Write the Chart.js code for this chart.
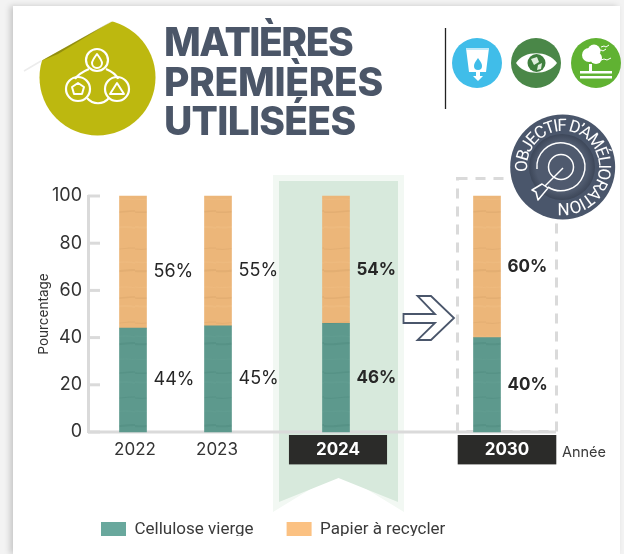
<!DOCTYPE html>
<html lang="fr">
<head>
<meta charset="utf-8">
<script src="https://cdn.jsdelivr.net/npm/chart.js@4"></script>
<style>
html,body{margin:0;padding:0;width:624px;height:554px;overflow:hidden;background:#f3f3f3}
#card{position:absolute;left:13px;top:6px;width:607px;height:548px;background:#fff;box-shadow:-3px 0 6px rgba(0,0,0,.18)}
#c{position:absolute;left:0;top:0}
#title{position:absolute;left:164px;top:22px;font:800 39px/39.5px Inter,sans-serif;color:#4b5668;margin:0}
#title span{display:block}
#clip{position:absolute;left:95px;top:536px;width:370px;height:18px;background:#fff}
svg{position:absolute;left:0;top:0}
</style>
</head>
<body>
<div id="card"></div>
<canvas id="c" width="624" height="554"></canvas>
<div id="clip"></div>
<svg width="624" height="554" viewBox="0 0 624 554">
  <defs>
    <radialGradient id="disc"><stop offset=".78" stop-color="#4f5a6e"/><stop offset="1" stop-color="#3d4759"/></radialGradient>
    <path id="ring" d="M 527.4 172 A 36 36 0 1 1 558 202.6"/>
  </defs>
  <circle cx="97.5" cy="77.5" r="58" fill="#bdb80f"/>
  <path d="M13.5 8 H135 V12 L113 21 L41 61 L24 71 H13.5 Z" fill="#fff"/>
  <path d="M113 20.5 L41 61 L58 54 Z" fill="#6f6c10" opacity=".55"/>
  <path d="M24 71 L41 61" stroke="#ececec" stroke-width="1.5" fill="none"/>
  <g fill="none" stroke="#fff" stroke-width="2.2" stroke-linejoin="round">
    <path d="M89 69 C82 72 77 76 75 79"/>
    <path d="M106 69 C113 72 117 76 118 79"/>
    <path d="M87 98 C93 105 103 105 109 98"/>
    <circle cx="97" cy="60" r="11"/>
    <circle cx="78" cy="89" r="12"/>
    <circle cx="117" cy="89" r="12"/>
    <path d="M97 54 C94 58 92 61 92 63 A5 5 0 0 0 102 63 C102 61 100 58 97 54Z" stroke-width="2"/>
    <path d="M78 83 L84 87 L82 94 L74 94 L72 87Z" stroke-width="2"/>
    <path d="M117 83 L124 94 L110 94Z" stroke-width="2"/>
  </g>
  <line x1="445.5" y1="28" x2="445.5" y2="109" stroke="#222" stroke-width="1.3"/>
  <circle cx="477" cy="63" r="25" fill="#40bde9"/>
  <path d="M466 48 H489 L486 72 H469Z" fill="#fff"/>
  <rect x="466" y="48" width="23" height="2" fill="#bfe9f8"/>
  <path d="M478 58 C475 62 474 64 474 66 A3.8 3.8 0 0 0 482 66 C482 64 481 62 478 58Z" fill="#40bde9"/>
  <path d="M476 72 H480 V76 H483 L478 81 L473 76 H476Z" fill="#fff"/>
  <circle cx="536" cy="63" r="25" fill="#4a8748"/>
  <path d="M516 63 C524 50 548 50 557 63 C548 76 524 76 516 63Z" fill="#fff"/>
  <circle cx="536.5" cy="63" r="9" fill="#3f7f3e"/>
  <path d="M531 59 L537 57 L539 62 L534 65Z M538 65 L542 63 L541 69 L537 70Z" fill="#dfeedd"/>
  <circle cx="596" cy="63" r="25" fill="#60b232"/>
  <circle cx="589" cy="55" r="7" fill="#fff"/><circle cx="594" cy="51" r="6.5" fill="#fff"/><circle cx="596" cy="58" r="6" fill="#fff"/>
  <rect x="589" y="64" width="3" height="9" fill="#fff"/>
  <rect x="580" y="71" width="32" height="2.5" fill="#fff"/><rect x="580" y="76" width="32" height="2.5" fill="#fff"/>
  <path d="M598 51 l3 -1 l2 1 l3 -2 M601 47 l3 -1 l2 1 l3 -2 M601 60 l3 -1 l3 1 l4 -2" stroke="#fff" stroke-width="1" fill="none"/>
  <circle cx="562.7" cy="167" r="52.5" fill="#4a566b"/>
  <circle cx="562" cy="167" r="33" fill="url(#disc)"/>
  <g fill="none" stroke="#fff" stroke-width="1.5" stroke-linejoin="round">
    <path d="M537 169 A24 24 0 1 1 548 187"/>
    <circle cx="561" cy="167" r="12.5"/>
    <path d="M563 168 L545 186"/>
    <path d="M542 184 L532 190 L536 192 L538 200 L548 188Z" fill="#4a566b"/>
  </g>
  <text font-family="Roboto,sans-serif" font-size="17" font-weight="400" fill="#fff"><textPath href="#ring" textLength="180" lengthAdjust="spacing">OBJECTIF D’AMÉLIORATION</textPath></text>
  <path d="M403.5 314 H435 L417.5 296 H431 L454 318 L431 340 H417.5 L435 323 H403.5Z" fill="#fff" stroke="#4a566b" stroke-width="1.8" stroke-linejoin="miter"/>
</svg>
<h1 id="title"><span style="letter-spacing:-1.45px">MATIÈRES</span><span style="letter-spacing:-.35px">PREMIÈRES</span><span style="letter-spacing:-.75px">UTILISÉES</span></h1>
<script>
const categories = ['2022', '2023', '2024', '2030'];
const celluloseVierge = [44, 45, 46, 40];
const papierARecycler = [56, 55, 54, 60];
const seriesNames = ['Cellulose vierge', 'Papier à recycler'];
const emphasizedYears = ['2024', '2030'];

// Bars and their year labels sit at irregular, hand-laid offsets in the original.
const BAR_OFFSETS = [45, 130, 248, 399];
const LABEL_OFFSETS = [47, 129, 250, 419];

class LaidOutCategoryScale extends Chart.CategoryScale {
  getPixelForValue(value) {
    const i = typeof value === 'number' ? value : this.parse(value);
    return this.left + BAR_OFFSETS[i];
  }
  getPixelForTick(i) {
    return this.left + LABEL_OFFSETS[i];
  }
}
LaidOutCategoryScale.id = 'laidOutCategory';
LaidOutCategoryScale.defaults = Chart.CategoryScale.defaults;
Chart.register(LaidOutCategoryScale);

function texture(base, dark, light) {
  const t = document.createElement('canvas');
  t.width = 27; t.height = 240;
  const g = t.getContext('2d');
  g.fillStyle = base; g.fillRect(0, 0, 27, 240);
  const stripes = [9, 22, 31, 47, 58, 66, 83, 96, 104, 119, 133, 142, 158, 171, 186, 199, 212, 227];
  stripes.forEach((y, i) => {
    g.strokeStyle = i % 2 ? light : dark;
    g.lineWidth = 1 + (i % 3) * .5;
    g.beginPath(); g.moveTo(0, y);
    g.bezierCurveTo(9, y + 1.5, 18, y - 1.5, 27, y + (i % 2 ? 1 : -1));
    g.stroke();
  });
  return g.createPattern(t, 'repeat');
}
const tealFill = texture('#5d998d', 'rgba(50,110,100,.16)', 'rgba(120,175,165,.14)');
const orangeFill = texture('#ecb679', 'rgba(190,140,85,.18)', 'rgba(250,205,150,.20)');

const decor = {
  id: 'decor',
  afterLayout(chart) {
    chart.legend.left = 68;
    chart.legend.top = 488;
  },
  beforeDraw(chart) {
    const c = chart.ctx;
    const band = (l, r, t, b, notch, col) => {
      c.fillStyle = col; c.beginPath();
      c.moveTo(l, t); c.lineTo(r, t); c.lineTo(r, b); c.lineTo((l + r) / 2, notch); c.lineTo(l, b);
      c.closePath(); c.fill();
    };
    band(273, 404, 175, 512, 472, '#f2f8f3');
    band(279, 398, 181, 502, 478, '#d7e9dc');
  },
  beforeDatasetsDraw(chart) {
    const c = chart.ctx, y = chart.scales.y;
    c.save();
    c.strokeStyle = '#dadada'; c.lineWidth = 3;
    y.ticks.forEach((t, i) => {
      const p = y.getPixelForTick(i);
      c.beginPath(); c.moveTo(y.right, p); c.lineTo(y.right + 12, p); c.stroke();
    });
    c.beginPath(); c.moveTo(y.right, y.bottom); c.lineTo(556, y.bottom); c.stroke();
    c.setLineDash([10, 8]);
    c.beginPath(); c.rect(457.5, 178.5, 99, 253); c.stroke();
    c.restore();
  },
  afterDatasetsDraw(chart) {
    const c = chart.ctx;
    c.save();
    c.textBaseline = 'middle'; c.textAlign = 'left';
    c.fillStyle = '#262626';
    chart.data.datasets.forEach((ds, d) => {
      chart.getDatasetMeta(d).data.forEach((bar, i) => {
        const bold = emphasizedYears.includes(categories[i]);
        c.font = (bold ? '700 17px' : '400 18px') + ' Inter, sans-serif';
        const lift = d === 1 && i < 3 ? 10 : 0;
        const mid = (bar.y + bar.base) / 2 + lift;
        c.fillText(ds.data[i] + '%', bar.x + bar.width / 2 + 7, mid);
      });
    });
    c.restore();
  }
};

new Chart(document.getElementById('c'), {
  type: 'bar',
  plugins: [decor],
  data: {
    labels: categories,
    datasets: [
      { label: seriesNames[0], data: celluloseVierge, backgroundColor: tealFill, swatch: '#69a89d', barThickness: 27, clip: false },
      { label: seriesNames[1], data: papierARecycler, backgroundColor: orangeFill, swatch: '#fbc182', barThickness: 27, clip: false }
    ]
  },
  options: {
    responsive: false,
    animation: false,
    events: [],
    layout: { autoPadding: false, padding: { left: 30, top: 196, right: 18, bottom: 0 } },
    plugins: {
      tooltip: { enabled: false },
      legend: {
        position: 'bottom',
        align: 'start',
        labels: {
          boxWidth: 25, boxHeight: 15, padding: 33,
          color: '#3a3a3a', font: { family: 'Roboto, sans-serif', size: 17 },
          generateLabels(chart) {
            return chart.data.datasets.map((ds, i) => ({
              text: ds.label, fillStyle: ds.swatch, strokeStyle: ds.swatch, fontColor: '#3a3a3a', lineWidth: 0, datasetIndex: i, hidden: false
            }));
          }
        }
      }
    },
    scales: {
      x: {
        type: 'laidOutCategory',
        stacked: true,
        afterFit(s) { s.height = 62; },
        grid: { display: false, drawTicks: false },
        border: { display: false },
        title: { display: true, text: 'Année', align: 'end', color: '#3a3a3a', font: { family: 'Inter, sans-serif', size: 14.5 }, padding: { top: 0, bottom: 33 } },
        ticks: {
          autoSkip: false, maxRotation: 0, padding: 8,
          color: ctx => emphasizedYears.includes(categories[ctx.index]) ? '#ffffff' : '#333333',
          font: ctx => ({ family: 'Inter, sans-serif', size: 17, weight: emphasizedYears.includes(categories[ctx.index]) ? '700' : '400' }),
          showLabelBackdrop: ctx => emphasizedYears.includes(categories[ctx.index]),
          backdropColor: '#2b2b29',
          backdropPadding: { left: 27, right: 27, top: 5, bottom: 4 }
        }
      },
      y: {
        stacked: true,
        min: 0, max: 100,
        afterFit(s) { s.width = 58; },
        grid: { display: false, drawTicks: false },
        border: { display: true, color: '#dadada', width: 3 },
        title: { display: true, text: 'Pourcentage', color: '#333333', font: { family: 'Inter, sans-serif', size: 13.5 }, padding: { top: 6, bottom: 0 } },
        ticks: { stepSize: 20, padding: 6, color: '#333333', font: { family: 'Inter, sans-serif', size: 18 } }
      }
    }
  }
});
</script>
</body>
</html>
